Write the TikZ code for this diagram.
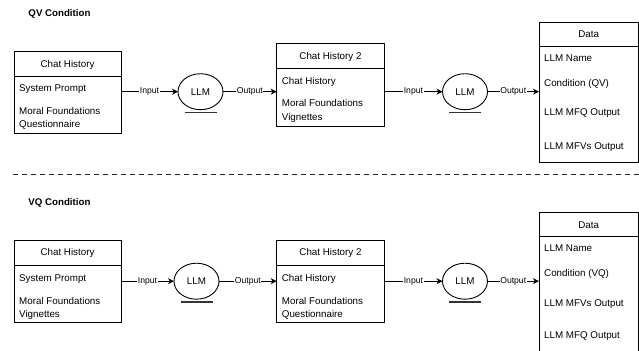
\documentclass[tikz,border=0pt]{standalone}
\usepackage{fontspec}
\setmainfont{Liberation Sans}
\usetikzlibrary{arrows.meta,shapes.geometric}
\begin{document}
\begin{tikzpicture}[x=1bp,y=-1bp,
  font=\fontsize{9.8bp}{11bp}\selectfont,
  box/.style={draw,line width=0.9bp,inner sep=0,outer sep=0,anchor=north west},
  divider/.style={line width=0.9bp},
  txt/.style={anchor=base west,inner sep=0},
  ctxt/.style={anchor=base,inner sep=0},
  title/.style={anchor=base west,inner sep=0,font=\fontsize{9.7bp}{11bp}\selectfont\bfseries},
  llm/.style={draw,ellipse,line width=0.9bp,minimum width=45bp,minimum height=36bp,inner sep=0,outer sep=0},
  base/.style={line width=1.5bp,black!80},
  flow/.style={line width=0.9bp,-{Stealth[length=6bp,width=6bp,inset=1.8bp]}},
  lbl/.style={fill=white,inner sep=0.6bp,font=\fontsize{8.6bp}{10bp}\selectfont},
  sep/.style={line width=1.3bp,black!85,dash pattern=on 5bp off 4bp},
]
\useasboundingbox (0,0) rectangle (639,350);
\fill[white] (0,0) rectangle (639,350);
\clip (0,0) rectangle (639,350);

% ---------------- QV Condition ----------------
\node[title] (qtitle) at (28.3,16.8) {QV Condition};

% Chat History 1
\node[box,minimum width=107bp,minimum height=82bp] (qch1) at (14,51) {};
\draw[divider] (qch1.west |- 0,76) -- (qch1.east |- 0,76);
\node[ctxt] (qch1h) at (67.5,67) {Chat History};
\node[txt] (qch1a) at (19,91.2) {System Prompt};
\node[txt] (qch1b) at (19,114.2) {Moral Foundations};
\node[txt] (qch1c) at (19,127.5) {Questionnaire};

% LLM 1
\node[llm] (qllm1) at (200.5,91.7) {LLM};
\draw[base] ([xshift=-16bp,yshift=-2.6bp]qllm1.south) -- ([xshift=16bp,yshift=-2.6bp]qllm1.south);

% Chat History 2
\node[box,minimum width=107.6bp,minimum height=82.7bp] (qch2) at (276.7,43.3) {};
\draw[divider] (qch2.west |- 0,68.3) -- (qch2.east |- 0,68.3);
\node[ctxt] (qch2h) at (330.5,59.5) {Chat History 2};
\node[txt] (qch2a) at (281.7,84.2) {Chat History};
\node[txt] (qch2b) at (281.7,106.8) {Moral Foundations};
\node[txt] (qch2c) at (281.7,120.1) {Vignettes};

% LLM 2
\node[llm] (qllm2) at (465,91.7) {LLM};
\draw[base] ([xshift=-16bp,yshift=-2.6bp]qllm2.south) -- ([xshift=16bp,yshift=-2.6bp]qllm2.south);

% Data
\node[box,minimum width=99.5bp,minimum height=140bp] (qdata) at (539,22.3) {};
\draw[divider] (qdata.west |- 0,46) -- (qdata.east |- 0,46);
\node[ctxt] (qdatah) at (588.75,37.8) {Data};
\node[txt] (qd1) at (544,61.8) {LLM Name};
\node[txt] (qd2) at (544,86.8) {Condition (QV)};
\node[txt] (qd3) at (544,115.8) {LLM MFQ Output};
\node[txt] (qd4) at (544,149.2) {LLM MFVs Output};

% connectors
\draw[flow] (qch1.east |- qllm1) -- node[lbl] {Input} (qllm1.west);
\draw[flow] (qllm1.east) -- node[lbl] {Output} (qllm1 -| qch2.west);
\draw[flow] (qch2.east |- qllm2) -- node[lbl] {Input} (qllm2.west);
\draw[flow] (qllm2.east) -- node[lbl] {Output} (qllm2 -| qdata.west);

% ---------------- separator ----------------
\coordinate (sepL) at (13,174.3);
\coordinate (sepR) at (640,174.3);
\draw[sep] (sepL) -- (sepR);

% ---------------- VQ Condition ----------------
\node[title] (vtitle) at (28.3,205.8) {VQ Condition};

% Chat History 1
\node[box,minimum width=107bp,minimum height=82bp] (vch1) at (14,240.7) {};
\draw[divider] (vch1.west |- 0,265) -- (vch1.east |- 0,265);
\node[ctxt] (vch1h) at (67.5,255.8) {Chat History};
\node[txt] (vch1a) at (19,281.2) {System Prompt};
\node[txt] (vch1b) at (19,304.2) {Moral Foundations};
\node[txt] (vch1c) at (19,317.5) {Vignettes};

% LLM 1
\node[llm] (vllm1) at (196.5,281.2) {LLM};
\draw[base] ([xshift=-16bp,yshift=-2.6bp]vllm1.south) -- ([xshift=16bp,yshift=-2.6bp]vllm1.south);

% Chat History 2
\node[box,minimum width=107.6bp,minimum height=82bp] (vch2) at (276.7,240.7) {};
\draw[divider] (vch2.west |- 0,265) -- (vch2.east |- 0,265);
\node[ctxt] (vch2h) at (330.5,255.8) {Chat History 2};
\node[txt] (vch2a) at (281.7,281.2) {Chat History};
\node[txt] (vch2b) at (281.7,304.2) {Moral Foundations};
\node[txt] (vch2c) at (281.7,317.5) {Questionnaire};

% LLM 2
\node[llm] (vllm2) at (465,281.2) {LLM};
\draw[base] ([xshift=-16bp,yshift=-2.6bp]vllm2.south) -- ([xshift=16bp,yshift=-2.6bp]vllm2.south);

% Data
\node[box,minimum width=99.5bp,minimum height=150bp] (vdata) at (539,212.3) {};
\draw[divider] (vdata.west |- 0,236.7) -- (vdata.east |- 0,236.7);
\node[ctxt] (vdatah) at (588.75,228.5) {Data};
\node[txt] (vd1) at (544,251.2) {LLM Name};
\node[txt] (vd2) at (544,276.8) {Condition (VQ)};
\node[txt] (vd3) at (544,306.2) {LLM MFVs Output};
\node[txt] (vd4) at (544,338.5) {LLM MFQ Output};

% connectors
\draw[flow] (vch1.east |- vllm1) -- node[lbl] {Input} (vllm1.west);
\draw[flow] (vllm1.east) -- node[lbl] {Output} (vllm1 -| vch2.west);
\draw[flow] (vch2.east |- vllm2) -- node[lbl] {Input} (vllm2.west);
\draw[flow] (vllm2.east) -- node[lbl] {Output} (vllm2 -| vdata.west);
\end{tikzpicture}
\end{document}
